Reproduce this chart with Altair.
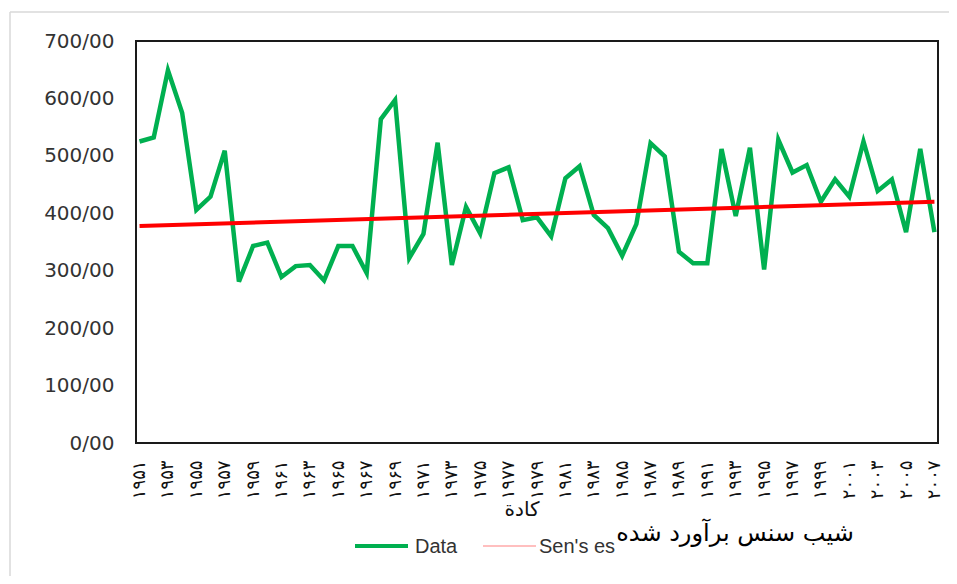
import altair as alt
import pandas as pd

years = list(range(1951, 2008))
values = [525, 532, 649, 575, 406, 429, 509, 281, 343, 349, 289, 308, 310, 283, 343, 343, 296, 564, 597,
          322, 364, 523, 310, 411, 365, 470, 480, 388, 393, 360, 461, 482, 397, 374, 326, 381, 522, 499, 333,
          313, 313, 512, 395, 514, 302, 528, 471, 484, 420, 459, 429, 525, 439, 459, 367, 512, 367]
sen_years = [1951, 2007]
sen_values = [378, 420]
y_ticks = [0, 100, 200, 300, 400, 500, 600, 700]
legend_labels = ["Data", "Sen's es"]
overlay_text = ["شیب سنس برآورد شده"]
x_title = ["كادة"]

fa = str.maketrans("0123456789", "۰۱۲۳۴۵۶۷۸۹")
year_labels = [str(y).translate(fa) for y in years]
odd_labels = [str(y).translate(fa) for y in years if y % 2 == 1]

df = pd.DataFrame({"year": year_labels, "value": values})
sen_df = pd.DataFrame({"year": [str(y).translate(fa) for y in sen_years], "value": sen_values})

x_enc = alt.X("year:O", sort=year_labels,
              scale=alt.Scale(type="point", domain=year_labels, padding=0.25),
              axis=alt.Axis(values=odd_labels, labelAngle=270, labelFont="DejaVu Sans",
                            labelFontSize=18, labelColor="#111", labelPadding=17,
                            ticks=False, domain=False, grid=False, title=None))
y_enc = alt.Y("value:Q", scale=alt.Scale(domain=[0, 700], nice=False),
              axis=alt.Axis(values=y_ticks, labelExpr="datum.value + '/00'",
                            labelFont="DejaVu Sans", labelFontSize=20, labelColor="#333",
                            labelPadding=22, ticks=False, domain=False, grid=False, title=None))

data_line = alt.Chart(df).mark_line(color="#00B050", strokeWidth=4.5).encode(x=x_enc, y=y_enc)
sen_line = alt.Chart(sen_df).mark_line(color="#FF0000", strokeWidth=4).encode(x=x_enc, y=y_enc)

one = pd.DataFrame({"k": [0]})

leg_green = alt.Chart(one).mark_rule(color="#00B050", strokeWidth=4).encode(
    x=alt.value(219), x2=alt.value(272), y=alt.value(505))
leg_red = alt.Chart(one).mark_rule(color="#FF0000", strokeWidth=1, opacity=0.5).encode(
    x=alt.value(347), x2=alt.value(400), y=alt.value(505))
leg_txt1 = alt.Chart(pd.DataFrame({"t": [legend_labels[0]]})).mark_text(
    align="left", baseline="middle", font="Liberation Sans", fontSize=20, color="#333").encode(
    x=alt.value(279), y=alt.value(506), text="t:N")
leg_txt2 = alt.Chart(pd.DataFrame({"t": [legend_labels[1]]})).mark_text(
    align="left", baseline="middle", font="Liberation Sans", fontSize=20, color="#333").encode(
    x=alt.value(403), y=alt.value(506), text="t:N")
persian = alt.Chart(pd.DataFrame({"t": overlay_text})).mark_text(
    align="center", baseline="middle", font="DejaVu Sans", fontSize=24, color="#000").encode(
    x=alt.value(599), y=alt.value(493), text="t:N")
xtitle = alt.Chart(pd.DataFrame({"t": x_title})).mark_text(
    align="center", baseline="middle", font="DejaVu Sans", fontSize=20, color="#111").encode(
    x=alt.value(386), y=alt.value(469), text="t:N")
border_top = alt.Chart(one).mark_rule(color="#D9D9D9", strokeWidth=1.5).encode(
    x=alt.value(-126), x2=alt.value(830), y=alt.value(-29))
border_left = alt.Chart(one).mark_rule(color="#D9D9D9", strokeWidth=1.5).encode(
    x=alt.value(-126), y=alt.value(-29), y2=alt.value(560))

chart = alt.layer(
    border_top, border_left, data_line, sen_line, leg_green, leg_red, leg_txt1, leg_txt2, persian, xtitle
).properties(
    width=802, height=402,
    autosize=alt.AutoSizeParams(type="none"),
    padding={"left": 128, "top": 33, "right": 11, "bottom": 133},
    background="white",
).configure_view(stroke="#1a1a1a", strokeWidth=2)

chart.save("out.html", embed_options={"renderer": "svg", "actions": False})
